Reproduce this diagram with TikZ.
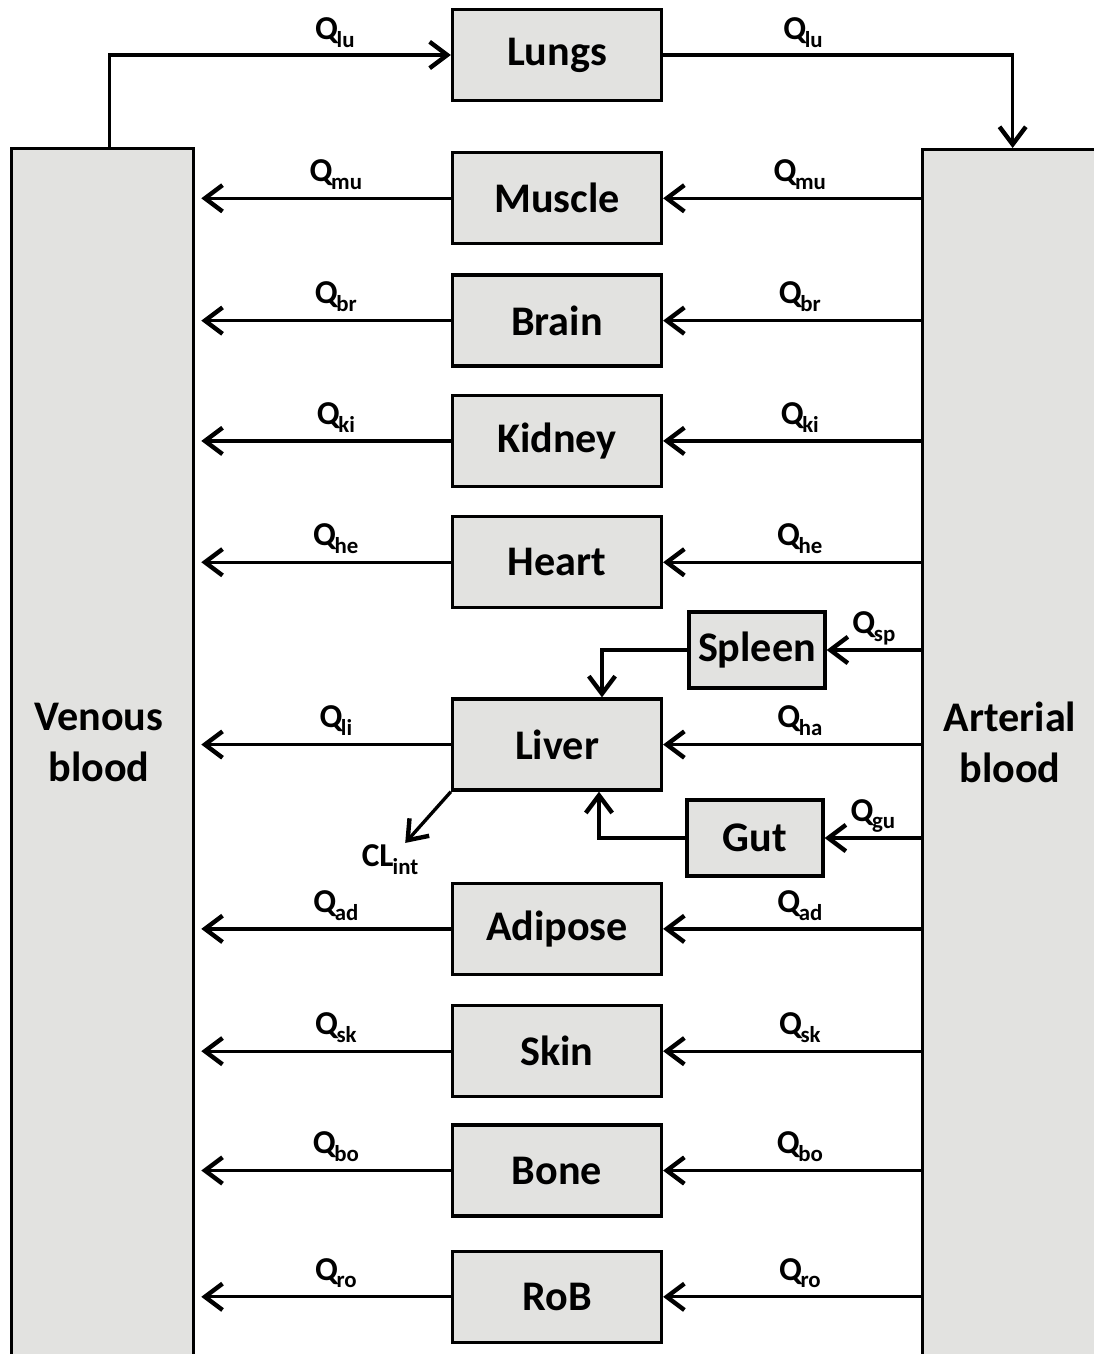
\documentclass[tikz,border=0pt]{standalone}
\usepackage{fontspec}
\setmainfont{Carlito}
\usepackage{tikz}
\usetikzlibrary{arrows.meta,positioning}
\definecolor{organgray}{HTML}{E2E2E0}
\newcommand{\qflow}[1]{Q\kern-0.8pt\raisebox{-4.5pt}{\fontsize{13}{13}\selectfont #1}}

\begin{document}
\begin{tikzpicture}[
    x=0.02cm, y=-0.02cm,
    organ/.style={draw, rectangle, line width=1.9pt, fill=organgray, minimum width=4.18cm, minimum height=1.82cm, inner sep=0pt, align=center, font=\fontsize{24}{29}\selectfont\bfseries},
    smallorgan/.style={organ, minimum width=2.72cm, minimum height=1.52cm},
    blood/.style={draw, rectangle, line width=1.9pt, fill=organgray, anchor=north west, minimum height=24.6cm, inner sep=0pt},
    bloodtext/.style={align=center, font=\fontsize{24}{29}\selectfont\bfseries},
    flow/.style={line width=1.9pt, -{Straight Barb[length=10pt, width=15pt, line width=2.5pt]}},
    qlabel/.style={inner sep=1pt, font=\fontsize{19}{19}\selectfont\bfseries}
]
    \clip (0,0) rectangle (1094,1354);
    \node [blood, minimum width=3.64cm] (venous) at (10,147) {};
    \node [blood, minimum width=3.6cm] (arterial) at (921,148) {};
    \node [bloodtext] (venoustext) at (99,742) {Venous\\blood};
    \node [bloodtext] (arterialtext) at (1010,742) {Arterial\\blood};

    \node [organ] (lungs) at (557,55) {Lungs};
    \node [organ, below=0.98cm of lungs] (muscle) {Muscle};
    \node [organ, below=0.56cm of muscle] (brain) {Brain};
    \node [organ, below=0.52cm of brain] (kidney) {Kidney};
    \node [organ, below=0.54cm of kidney] (heart) {Heart};
    \node [organ, below=1.76cm of heart] (liver) {Liver};
    \node [organ, below=1.8cm of liver] (adipose) {Adipose};
    \node [organ, below=0.56cm of adipose] (skin) {Skin};
    \node [organ, below=0.5cm of skin] (bone) {Bone};
    \node [organ, below=0.64cm of bone] (rob) {RoB};
    \node [smallorgan] (spleen) at (757,650) {Spleen};
    \node [smallorgan] (gut) at (755,838) {Gut};
    \node [qlabel] (clint) at (390,860) {CL\kern-0.5pt\raisebox{-4.5pt}{\fontsize{13}{13}\selectfont int}};

    \draw [flow] ([xshift=0.14cm]venous.north) |- node[qlabel, above=2pt, pos=0.83] {\qflow{lu}} (lungs.west);
    \draw [flow] (lungs.east) -| node[qlabel, above=2pt, pos=0.2] {\qflow{lu}} (arterial.north);

    \foreach \org/\sub in {muscle/mu, brain/br, kidney/ki, heart/he, liver/li, adipose/ad, skin/sk, bone/bo, rob/ro} {
        \draw [flow, shorten >=0.12cm] (\org.west) -- node[qlabel, above=3pt, pos=0.45] {\qflow{\sub}} (\org.west -| venous.east);
    }
    \foreach \org/\sub in {muscle/mu, brain/br, kidney/ki, heart/he, liver/ha, adipose/ad, skin/sk, bone/bo, rob/ro} {
        \draw [flow] (\org.east -| arterial.west) -- node[qlabel, above=3pt, pos=0.47] {\qflow{\sub}} (\org.east);
    }

    \draw [flow] (spleen.east -| arterial.west) -- node[qlabel, above=1pt] {\qflow{sp}} (spleen.east);
    \draw [flow] (gut.east -| arterial.west) -- node[qlabel, above=1pt] {\qflow{gu}} (gut.east);
    \draw [flow] (spleen.west) -| ([xshift=0.9cm]liver.north);
    \draw [flow] (gut.west) -| ([xshift=0.84cm]liver.south);
    \draw [flow] (liver.south west) -- (clint);
\end{tikzpicture}
\end{document}
